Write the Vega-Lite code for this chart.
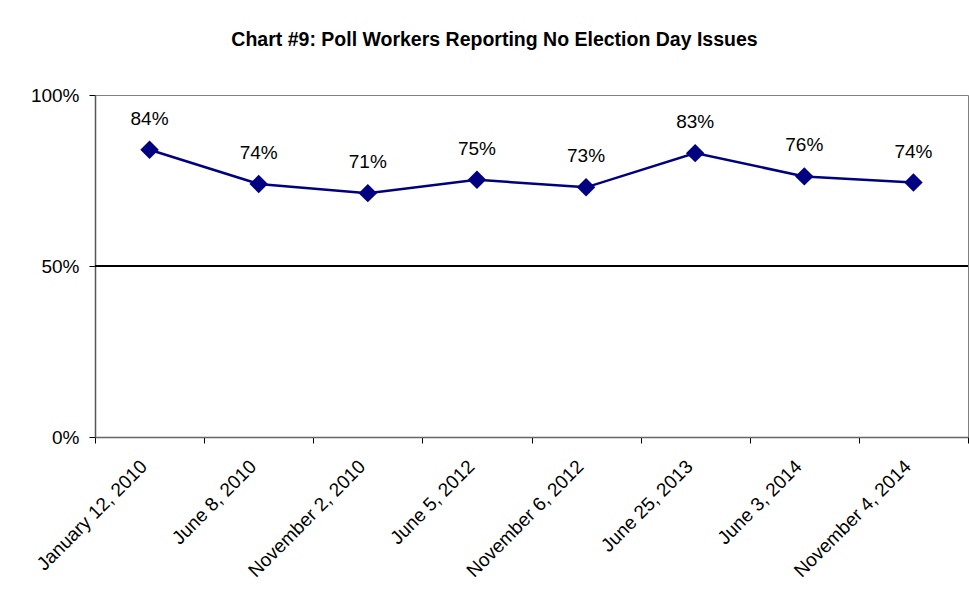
{
  "$schema": "https://vega.github.io/schema/vega-lite/v6.json",
  "autosize": {"type": "none"},
  "width": 873,
  "height": 342,
  "padding": {"left": 95, "top": 95, "right": 1, "bottom": 156},
  "background": "white",
  "config": {
    "font": "Liberation Sans",
    "view": {"stroke": "#808080", "strokeWidth": 1}
  },
  "title": {
    "text": "Chart #9: Poll Workers Reporting No Election Day Issues",
    "font": "Liberation Sans",
    "fontSize": 19.5,
    "fontWeight": "bold",
    "color": "black",
    "anchor": "middle",
    "dx": -37,
    "offset": 21,
    "baseline": "alphabetic"
  },
  "data": {
    "values": [
      {"date": "January 12, 2010", "value": 0.84},
      {"date": "June 8, 2010", "value": 0.74},
      {"date": "November 2, 2010", "value": 0.713},
      {"date": "June 5, 2012", "value": 0.752},
      {"date": "November 6, 2012", "value": 0.73},
      {"date": "June 25, 2013", "value": 0.83},
      {"date": "June 3, 2014", "value": 0.762},
      {"date": "November 4, 2014", "value": 0.744}
    ]
  },
  "encoding": {
    "x": {
      "field": "date",
      "type": "nominal",
      "sort": null,
      "scale": {"paddingInner": 0, "paddingOuter": 0},
      "axis": {
        "title": null,
        "labelAngle": -45,
        "labelAlign": "right",
        "labelBaseline": "middle",
        "labelFont": "Liberation Sans",
        "labelFontSize": 19,
        "labelColor": "black",
        "labelPadding": 20,
        "labelOffset": -6,
        "tickBand": "extent",
        "tickSize": 6,
        "tickColor": "black",
        "domainColor": "#666666",
        "domainWidth": 1.5,
        "grid": false
      }
    },
    "y": {
      "field": "value",
      "type": "quantitative",
      "scale": {"domain": [0, 1], "nice": false, "zero": true},
      "axis": {
        "title": null,
        "values": [0, 0.5, 1],
        "format": ".0%",
        "labelFont": "Liberation Sans",
        "labelFontSize": 19,
        "labelColor": "black",
        "labelPadding": 10,
        "tickSize": 6,
        "tickColor": "black",
        "domainColor": "#555555",
        "domainWidth": 1.5,
        "grid": false
      }
    }
  },
  "layer": [
    {
      "mark": {"type": "rule", "color": "black", "strokeWidth": 1},
      "encoding": {"y": {"datum": 0.5}, "x": null}
    },
    {
      "mark": {"type": "line", "color": "#000080", "strokeWidth": 2.5}
    },
    {
      "mark": {"type": "point", "shape": "diamond", "filled": true, "color": "#000080", "opacity": 1, "size": 340}
    },
    {
      "mark": {"type": "text", "font": "Liberation Sans", "fontSize": 19, "color": "black", "baseline": "alphabetic", "dy": -25},
      "encoding": {"text": {"field": "value", "format": ".0%"}}
    }
  ]
}
